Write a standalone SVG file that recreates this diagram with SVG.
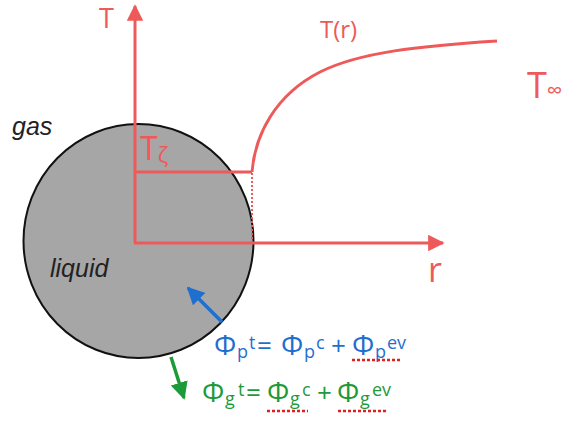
<svg xmlns="http://www.w3.org/2000/svg" width="564" height="423" viewBox="0 0 564 423">
<defs>
<style>
.red{fill:#ee5a5a;font-family:"Open Sans","Liberation Sans",sans-serif}
.ax{stroke:#ee5a5a;stroke-width:3;fill:none}
.lab{font-family:"Liberation Sans",Arial,sans-serif;font-style:italic;fill:#222;font-size:25px}
.eq{font-family:"Open Sans","Liberation Sans",sans-serif;font-size:26px}
.F{font-size:28px}
.s{font-size:18px}
.und{stroke:#e02020;stroke-width:2.5;stroke-dasharray:3,2}
</style>
<marker id="ra" viewBox="0 0 10 10" refX="9" refY="5" markerWidth="5.5" markerHeight="5.5" orient="auto" markerUnits="strokeWidth"><path d="M0,0L10,5L0,10z" fill="#ee5a5a"/></marker>
<marker id="ba" viewBox="0 0 10 10" refX="9" refY="5" markerWidth="5" markerHeight="5" orient="auto" markerUnits="strokeWidth"><path d="M0,0L10,5L0,10z" fill="#1f6fcf"/></marker>
<marker id="ga" viewBox="0 0 10 10" refX="9" refY="5" markerWidth="5" markerHeight="5" orient="auto" markerUnits="strokeWidth"><path d="M0,0L10,5L0,10z" fill="#1d9a3a"/></marker>
</defs>
<rect width="564" height="423" fill="#fff"/>
<g id="drop">
<ellipse cx="138.5" cy="241" rx="115" ry="117" fill="#a6a6a6" stroke="#111" stroke-width="2"/>
<text class="lab" x="12" y="135">gas</text>
<text class="lab" x="50" y="277">liquid</text>
</g>
<g id="connectors">
<line class="ax" x1="135" y1="243" x2="135" y2="6" marker-end="url(#ra)"/>
<line class="ax" x1="134" y1="243" x2="443" y2="243" marker-end="url(#ra)"/>
<polyline class="ax" points="135,172 252,172"/>
<line x1="252" y1="173" x2="252" y2="242" stroke="#ee5a5a" stroke-width="2" stroke-dasharray="2,2"/>
<path class="ax" stroke-width="2" d="M252,172 C255,135 275,95 320,72 C360,52 420,46 497,41"/>
<line x1="222" y1="322" x2="188" y2="288" stroke="#1f6fcf" stroke-width="3.5" marker-end="url(#ba)"/>
<line x1="171" y1="357" x2="184" y2="398" stroke="#1d9a3a" stroke-width="3.5" marker-end="url(#ga)"/>
</g>
<g id="labels">
<text class="red" x="99" y="28" font-size="27">T</text>
<text class="red" x="320" y="38" font-size="24">T(r)</text>
<text class="red" x="527" y="98" font-size="36">T<tspan font-size="22" dy="0">∞</tspan></text>
<text class="red" x="140" y="160" font-size="32">T<tspan font-size="22" dy="3">ζ</tspan></text>
<text class="red" x="428" y="282" font-size="34">r</text>
</g>
<g id="eq-p" fill="#1f6fcf">
<text class="eq"><tspan class="F" x="214" y="355">Φ</tspan><tspan class="s" x="237" y="358">p</tspan><tspan class="s" x="249" y="349">t</tspan><tspan x="257" y="355">=</tspan><tspan class="F" x="281" y="355">Φ</tspan><tspan class="s" x="304" y="358">p</tspan><tspan class="s" x="316" y="349">c</tspan><tspan x="331" y="355">+</tspan><tspan class="F" x="352" y="355">Φ</tspan><tspan class="s" x="375" y="358">p</tspan><tspan class="s" x="387" y="349">ev</tspan></text>
<line class="und" x1="352" y1="360" x2="400" y2="360"/>
</g>
<g id="eq-g" fill="#1d9a3a">
<text class="eq"><tspan class="F" x="202" y="402">Φ</tspan><tspan class="s" x="225" y="405">g</tspan><tspan class="s" x="238" y="396">t</tspan><tspan x="246" y="402">=</tspan><tspan class="F" x="267" y="402">Φ</tspan><tspan class="s" x="290" y="405">g</tspan><tspan class="s" x="302" y="396">c</tspan><tspan x="317" y="402">+</tspan><tspan class="F" x="337" y="402">Φ</tspan><tspan class="s" x="360" y="405">g</tspan><tspan class="s" x="372" y="396">ev</tspan></text>
<line class="und" x1="267" y1="411" x2="308" y2="411"/>
<line class="und" x1="338" y1="411" x2="387" y2="411"/>
</g>
</svg>
